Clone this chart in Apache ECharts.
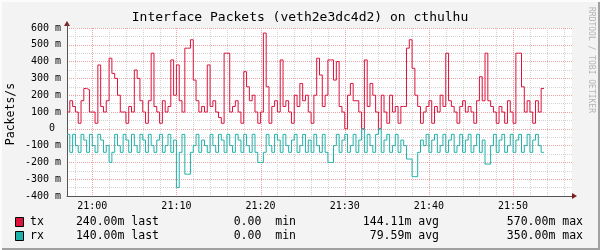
<!DOCTYPE html>
<html><head><meta charset="utf-8">
<script src="https://cdn.jsdelivr.net/npm/echarts@6/dist/echarts.min.js"></script>
<style>html,body{margin:0;padding:0;background:#f3f3f3}#c{width:600px;height:250px}</style>
</head><body><div id="c"></div>
<script>
// ---- data ----
const startMinute = 57;          // 20:57, minutes after 20:00
const stepMinutes = 1 / 3;       // 20 s per sample
const txValues = [100,167,133,100,33,167,240,233,100,100,33,380,133,100,167,420,330,300,200,100,
  100,33,133,100,350,300,167,100,33,167,450,133,100,33,167,100,133,410,200,380,
  167,100,480,480,530,290,167,100,133,100,380,133,167,100,67,33,450,450,100,133,
  167,100,33,340,250,167,200,100,33,100,570,250,33,133,167,100,410,133,167,100,
  33,200,133,270,167,200,100,33,200,420,320,133,200,410,410,290,400,133,100,0,
  200,270,167,167,100,0,410,133,270,200,100,0,200,100,33,200,100,133,33,133,
  133,480,530,360,200,133,33,100,133,167,33,133,100,200,133,450,167,133,100,33,
  133,167,100,133,100,33,167,310,167,450,167,133,100,33,133,100,33,167,100,33,
  450,450,250,100,167,100,33,167,100,240];
const rxValues = [33,140,33,100,140,33,67,140,33,100,140,33,67,140,100,200,140,33,100,140,
  33,67,140,33,100,140,33,67,140,33,100,140,67,33,140,100,33,140,67,350,
  140,33,270,270,140,100,33,140,67,100,140,33,100,140,33,67,140,33,100,140,
  33,67,140,33,100,140,33,140,200,200,140,33,100,140,33,67,140,33,100,140,
  67,33,140,100,33,140,67,140,33,100,140,33,140,200,200,100,33,140,67,33,
  140,100,33,140,67,0,140,33,100,140,33,0,140,67,33,140,100,33,140,67,
  100,180,180,285,285,140,67,100,33,140,67,33,140,100,33,140,67,33,140,100,
  33,140,67,33,140,100,33,140,67,210,210,100,33,140,67,33,140,100,33,140,
  67,33,140,100,33,140,67,33,100,140];
const xLabelMinutes = [60,70,80,90,100,110];
const minorGridMinutes = [58,60,62,64,66,68,70,72,74,76,78,80,82,84,86,88,90,92,94,96,98,100,102,104,106,108,110,112,114,116];
const majorGridMinutes = [60,70,80,90,100,110];
const seriesNames = ['tx','rx'];
const seriesColors = ['#dc143c','#20b2aa'];
const lastStats = ['240.00m last','140.00m last'];
const minStats = ['0.00  min','0.00  min'];
const avgStats = ['144.11m avg','79.59m avg'];
const maxStats = ['570.00m max','350.00m max'];
const titleText = 'Interface Packets (veth2e3dc4d2) on cthulhu';
const yAxisTitle = 'Packets/s';
const watermark = 'RRDTOOL / TOBI OETIKER';

// ---- build ----
function toPoints(vals, sign){
  const pts = vals.map((v,i)=>[startMinute + i*stepMinutes, sign*v]);
  pts.push([startMinute + vals.length*stepMinutes, sign*vals[vals.length-1]]);
  return pts;
}
function fmtTime(m){
  const h = 20 + Math.floor(m/60), mm = m % 60;
  return h + ':' + (mm<10?'0':'') + mm;
}
const MONO = 'DejaVu Sans Mono';
function gridSeries(list, color){
  return {
    type:'custom', silent:true, z:1,
    data: list.map(m=>[m,0]),
    encode:{x:0,y:1},
    renderItem:function(params, api){
      const x = api.value(0);
      const p1 = api.coord([x,600]), p2 = api.coord([x,-400]);
      const px = Math.round(p1[0]) + 0.5;
      return {type:'line', shape:{x1:px,y1:p1[1],x2:px,y2:p2[1]},
        style:{stroke:color,lineWidth:1,lineDash:[1,1]}};
    }
  };
}
const chart = echarts.init(document.getElementById('c'), null, {renderer:'canvas'});
const graphics = [
  {type:'rect', shape:{x:0,y:0,width:600,height:250}, style:{fill:'#f3f3f3'}, z:-10, silent:true},
  {type:'rect', shape:{x:598,y:0,width:2,height:250}, style:{fill:'#a0a0a0'}, silent:true},
  {type:'rect', shape:{x:0,y:248,width:600,height:2}, style:{fill:'#a0a0a0'}, silent:true},
  {type:'rect', shape:{x:0,y:0,width:600,height:2}, style:{fill:'#fcfcfc'}, silent:true},
  {type:'rect', shape:{x:0,y:0,width:2,height:250}, style:{fill:'#fcfcfc'}, silent:true},
  {type:'text', x:300, y:18, style:{text:titleText, font:'13px '+MONO, fill:'#000', textAlign:'center', textVerticalAlign:'middle'}},
  {type:'text', x:11, y:114, rotation:Math.PI/2, style:{text:yAxisTitle, font:'11.5px '+MONO, fill:'#000', textAlign:'center', textVerticalAlign:'middle'}},
  {type:'text', x:591, y:60, rotation:-Math.PI/2, style:{text:watermark, font:'8px '+MONO, fill:'#b4b4b4', textAlign:'center', textVerticalAlign:'middle'}},
  {type:'polygon', shape:{points:[[572,193],[577,196],[572,199]]}, style:{fill:'#7f1f1f'}, z:100},
  {type:'polygon', shape:{points:[[64,26],[67,21],[70,26]]}, style:{fill:'#7f1f1f'}, z:100},
  {type:'line', shape:{x1:67.5,y1:24,x2:67.5,y2:28}, style:{stroke:'#555',lineWidth:1}, z:100}
];
const rowY = [222, 236];
seriesNames.forEach((n,i)=>{
  const y = rowY[i];
  graphics.push({type:'rect', shape:{x:15.5,y:y-4.5,width:8,height:9}, style:{fill:seriesColors[i],stroke:'#000',lineWidth:1}});
  graphics.push({type:'text', x:30, y:y, style:{text:n, font:'11.5px '+MONO, fill:'#000', textVerticalAlign:'middle'}});
  graphics.push({type:'text', x:159, y:y, style:{text:lastStats[i], font:'11.5px '+MONO, fill:'#000', textAlign:'right', textVerticalAlign:'middle'}});
  graphics.push({type:'text', x:296, y:y, style:{text:minStats[i], font:'11.5px '+MONO, fill:'#000', textAlign:'right', textVerticalAlign:'middle'}});
  graphics.push({type:'text', x:439, y:y, style:{text:avgStats[i], font:'11.5px '+MONO, fill:'#000', textAlign:'right', textVerticalAlign:'middle'}});
  graphics.push({type:'text', x:583, y:y, style:{text:maxStats[i], font:'11.5px '+MONO, fill:'#000', textAlign:'right', textVerticalAlign:'middle'}});
});
chart.setOption({
  animation:false,
  backgroundColor:'#f3f3f3',
  grid:{left:67, right:28, top:28, bottom:54, show:true, backgroundColor:'#ffffff', borderWidth:0},
  xAxis:{type:'value', min:57, max:117,
    axisLine:{show:true, onZero:false, lineStyle:{color:'#555',width:1}},
    axisTick:{show:false}, splitLine:{show:false},
    axisLabel:{customValues:xLabelMinutes, formatter:fmtTime, fontFamily:MONO, fontSize:10, color:'#000', margin:5}},
  yAxis:{type:'value', min:-400, max:600, interval:100,
    axisLine:{show:true, onZero:false, lineStyle:{color:'#555',width:1}},
    axisTick:{show:false},
    axisLabel:{formatter:v=> v===0 ? '0 ' : v+' m', fontFamily:MONO, fontSize:10, color:'#000', margin:6},
    splitLine:{show:true, lineStyle:{color:'#eba3a3', type:[1,1]}},
    minorTick:{show:false, splitNumber:2},
    minorSplitLine:{show:true, lineStyle:{color:'#d2d2d2', type:[1,1]}}},
  graphic:graphics,
  series:[
    gridSeries(minorGridMinutes,'#d2d2d2'),
    gridSeries(majorGridMinutes,'#eba3a3'),
    {name:seriesNames[0], type:'line', step:'end', showSymbol:false, z:3, data:toPoints(txValues,1),
      lineStyle:{color:seriesColors[0],width:1}, itemStyle:{color:seriesColors[0]}},
    {name:seriesNames[1], type:'line', step:'end', showSymbol:false, z:3, data:toPoints(rxValues,-1),
      lineStyle:{color:seriesColors[1],width:1}, itemStyle:{color:seriesColors[1]}}
  ]
});
</script></body></html>
